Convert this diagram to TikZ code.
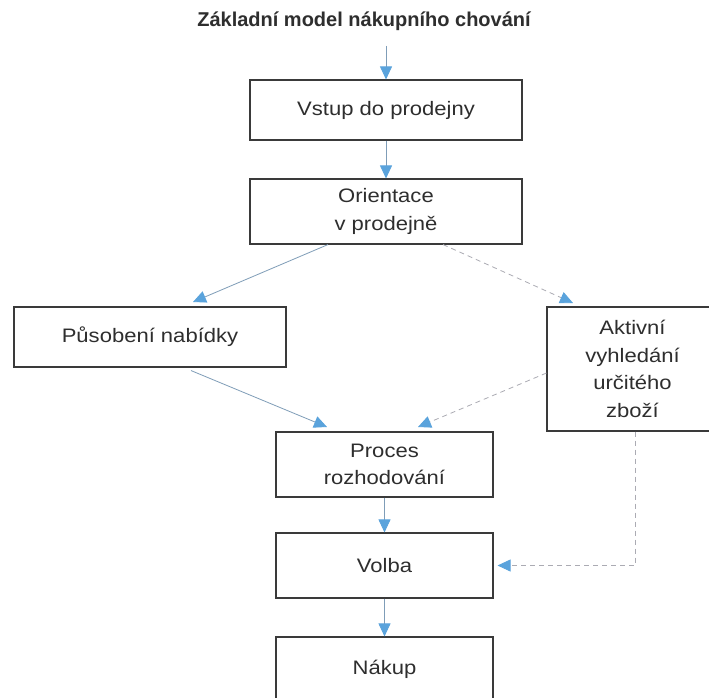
\documentclass[tikz,border=0pt]{standalone}
\usepackage{fontspec}
\setmainfont{Liberation Sans}
\newfontfamily\boxfont[FakeStretch=1.13]{Liberation Sans}
\usetikzlibrary{arrows.meta}
\definecolor{tipblue}{HTML}{5AA3DC}
\definecolor{linecol}{HTML}{7F9DB8}
\definecolor{dashcol}{HTML}{ABABB3}
\definecolor{boxline}{HTML}{3A3A3A}
\definecolor{txt}{HTML}{2E2E2E}
\begin{document}
\begin{tikzpicture}[x=1pt,y=1pt,
  box/.style={draw=boxline, line width=1.1pt, fill=white, inner sep=0pt, align=center,
    font=\boxfont\fontsize{19.5}{27.5}\selectfont, text=txt},
  flow/.style={draw=linecol, line width=0.8pt, -{Triangle[length=13pt,width=12pt,color=tipblue]}},
  dflow/.style={flow, draw=dashcol, dash pattern=on 5pt off 4pt}
]
\useasboundingbox (0,0) rectangle (709,-697);
\fill[white] (0,0) rectangle (709,-697);

\node[font=\bfseries\fontsize{20}{24}\selectfont, text=txt] (title) at (364,-21) {Základní model nákupního chování};

\node[box, minimum width=272pt, minimum height=60pt] (vstup) at (386,-110) {Vstup do prodejny};
\node[box, minimum width=272pt, minimum height=65pt] (orient) at (386,-211.5) {Orientace\\v prodejně};
\node[box, minimum width=272pt, minimum height=60pt] (pusob) at (150,-337) {Působení nabídky};
\node[box, minimum width=171pt, minimum height=124pt] (aktiv) at (632.5,-369) {Aktivní\\vyhledání\\určitého\\zboží};
\node[box, minimum width=217pt, minimum height=65pt] (proces) at (384.5,-464.5) {Proces\\rozhodování};
\node[box, minimum width=217pt, minimum height=65pt] (volba) at (384.5,-565.5) {Volba};
\node[box, minimum width=217pt, minimum height=65pt] (nakup) at (384.5,-669.5) {Nákup};

\coordinate (e1) at (193,-302);
\coordinate (e2) at (573,-303);
\coordinate (e3) at (327,-427);
\coordinate (e4) at (418,-427);

\draw[flow, shorten <=12pt] (title.south -| vstup.north) -- (vstup.north);
\draw[flow] (vstup.south) -- (orient.north);
\draw[flow] ([xshift=-58pt]orient.south) -- (e1);
\draw[dflow] ([xshift=57pt]orient.south) -- (e2);
\draw[flow] ([xshift=41pt,yshift=-3pt]pusob.south) -- (e3);
\draw[dflow] ([yshift=-4pt]aktiv.west) -- (e4);
\draw[flow] (proces.south) -- (volba.north);
\draw[flow] (volba.south) -- (nakup.north);
\draw[dflow] ([xshift=2.5pt]aktiv.south) |- ([xshift=4pt]volba.east);
\end{tikzpicture}
\end{document}
